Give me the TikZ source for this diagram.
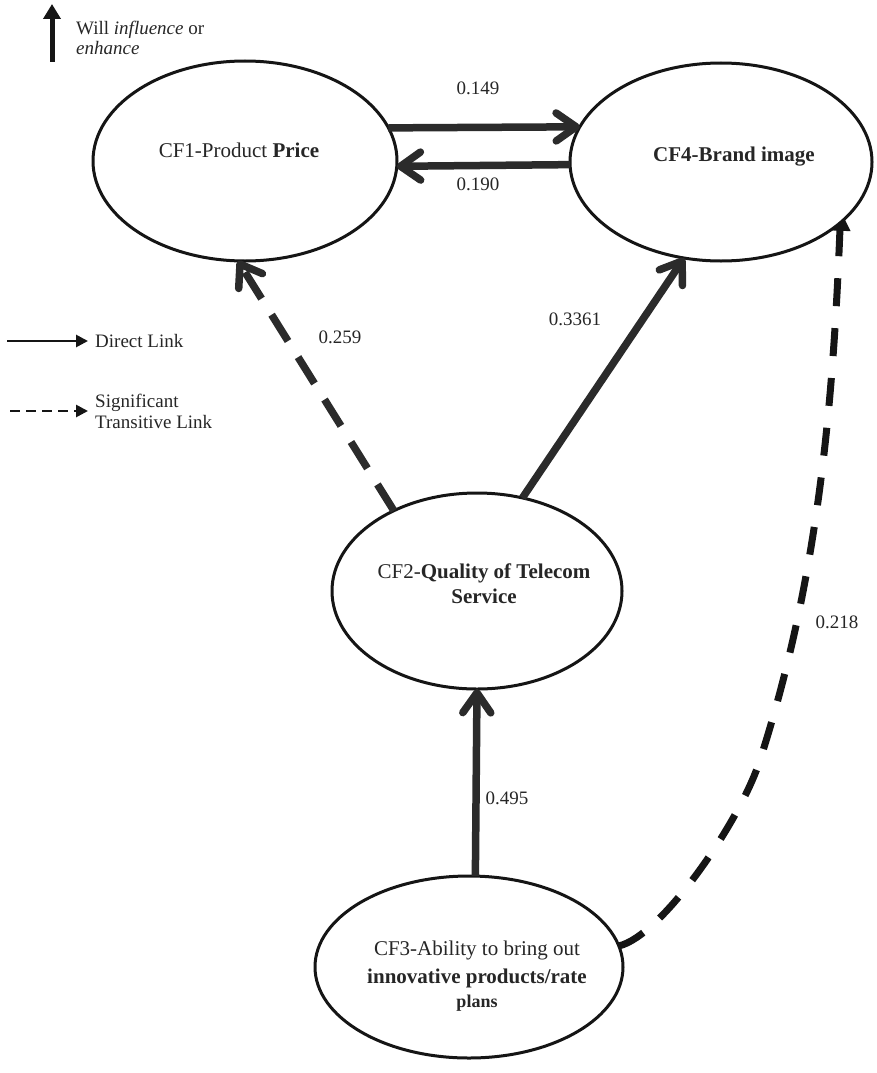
\documentclass[tikz,border=0pt]{standalone}
\usepackage{fontspec}
\setmainfont{Liberation Serif}
\usetikzlibrary{arrows.meta,shapes.geometric}
\pgfdeclarelayer{back}
\pgfsetlayers{back,main}
\definecolor{arrowgray}{HTML}{2B2B2B}
\definecolor{lineblk}{HTML}{151515}
\begin{document}
\begin{tikzpicture}[x=1pt,y=-1pt,
  factor/.style={ellipse, draw=lineblk, line width=3pt, fill=white, inner sep=0pt, outer sep=0pt},
  ftext/.style={font=\fontsize{21}{25}\selectfont, anchor=base, inner sep=0pt, text=black!85},
  smalltext/.style={font=\fontsize{18}{21}\selectfont, anchor=base, inner sep=0pt, text=black!85},
  lbl/.style={font=\fontsize{19}{23}\selectfont, inner sep=0pt, text=black!85},
  legtext/.style={font=\fontsize{19}{23}\selectfont, anchor=base west, inner sep=0pt, text=black!85},
  link/.style={draw=arrowgray, line width=7.5pt, -{Straight Barb[round,length=20pt,width=28pt]}},
  tlink/.style={link, dash pattern=on 31pt off 19pt},
  curvelink/.style={draw=lineblk, line width=7pt, dash pattern=on 28pt off 22pt,
    shorten >=-12pt, -{Triangle[length=20pt,width=20pt]}},
  legarrow/.style={draw=lineblk, line width=2.7pt, -{Triangle[length=12pt,width=12pt]}},
]
\useasboundingbox (0,0) rectangle (876,1073);

% factors
\node[factor, minimum width=304pt, minimum height=200pt] (cf1) at (245,161) {};
\node[factor, minimum width=302pt, minimum height=198pt] (cf4) at (721,162) {};
\node[factor, minimum width=290pt, minimum height=196pt] (cf2) at (477,591) {};
\node[factor, minimum width=308pt, minimum height=182pt] (cf3) at (469,967) {};

% texts
\node[ftext] (t1) at (239,157) {CF1-Product \textbf{Price}};
\node[ftext] (t4) at (734,161) {\textbf{CF4-Brand image}};
\node[ftext] (t2a) at (484,578) {CF2-\textbf{Quality of Telecom}};
\node[ftext] (t2b) at (484,603) {\textbf{Service}};
\node[ftext] (t3a) at (477,955) {CF3-Ability to bring out};
\node[ftext] (t3b) at (477,983) {\textbf{innovative products/rate}};
\node[smalltext] (t3c) at (477,1007) {\textbf{plans}};

% links
\draw[link] (cf1.13) -- (cf4.166);
\draw[link] (cf4.181) -- (cf1.-2);
\draw[tlink] (cf2.136) -- (cf1.-94);
\draw[link] (cf2.64) -- (cf4.-111);
\draw[link] (cf3.86) -- (cf2.-90);

\coordinate (m218) at (760,760);
\begin{pgfonlayer}{back}
\draw[curvelink] (cf3.8) .. controls (662,936) and (741,820) .. (m218)
  .. controls (818,580) and (833,405) .. (cf4.-27);
\end{pgfonlayer}

% link labels
\node[lbl] (l149) at (478,88) {0.149};
\node[lbl] (l190) at (478,184) {0.190};
\node[lbl] (l259) at (340,337) {0.259};
\node[lbl] (l3361) at (575,319) {0.3361};
\node[lbl] (l495) at (507,798) {0.495};
\node[lbl] (l218) at (837,622) {0.218};

% legend
\coordinate (ua) at (52,62);
\coordinate (ub) at (52,4);
\draw[draw=lineblk, line width=5pt, -{Triangle[length=15pt,width=17pt]}] (ua) -- (ub);
\node[legtext] (w1) at (76,35) {Will \textit{influence} or};
\node[legtext] (w2) at (76,55) {\textit{enhance}};

\coordinate (da) at (7,341);
\coordinate (db) at (88,341);
\draw[legarrow] (da) -- (db);
\node[legtext] (dl) at (95,347) {Direct Link};

\coordinate (sa) at (10,411);
\coordinate (sb) at (88,411);
\draw[legarrow, dash pattern=on 10pt off 6pt] (sa) -- (sb);
\node[legtext] (s1) at (95,407) {Significant};
\node[legtext] (s2) at (95,428) {Transitive Link};
\end{tikzpicture}
\end{document}
